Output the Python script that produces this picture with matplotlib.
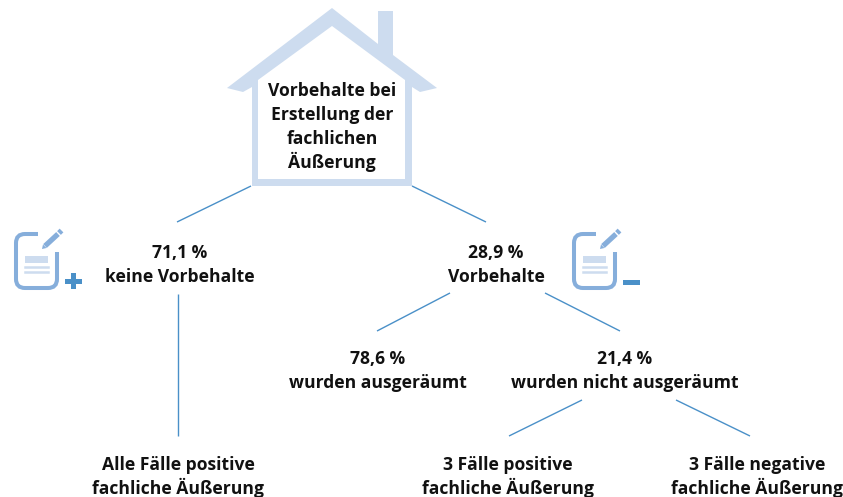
import matplotlib.pyplot as plt
from matplotlib.patches import Polygon, PathPatch
from matplotlib.path import Path

plt.rcParams['font.family'] = ['Open Sans', 'DejaVu Sans']

# labels: lines of text, x centre, baseline of each line (image pixels)
labels = [["Vorbehalte bei", "Erstellung der", "fachlichen", "Äußerung"],
          ["71,1 %", "keine Vorbehalte"],
          ["28,9 %", "Vorbehalte"],
          ["78,6 %", "wurden ausgeräumt"],
          ["21,4 %", "wurden nicht ausgeräumt"],
          ["Alle Fälle positive", "fachliche Äußerung"],
          ["3 Fälle positive", "fachliche Äußerung"],
          ["3 Fälle negative", "fachliche Äußerung"]]
label_x = [332, 180, 496, 378, 625, 178, 508, 757]
label_y = [96, 258, 258, 364, 364, 470, 470, 470]
line_step = 24

# connector lines x0, y0, x1, y1
links = [(251, 186, 177, 222), (412, 186, 486, 222),
         (178, 294, 178, 436),
         (450, 293, 377, 331), (545, 293, 620, 331),
         (582, 400, 509, 436), (676, 400, 750, 436)]

HOUSE = '#cddcef'
ICON = '#86aedb'
ICON_LIGHT = '#cddcef'
SIGN = '#4a90c8'
LINE = '#4a90c8'

fig = plt.figure(figsize=(8.43, 4.97), dpi=100)
ax = fig.add_axes([0, 0, 1, 1])
ax.set_xlim(0, 843)
ax.set_ylim(497, 0)
ax.axis('off')

# house
house = [(332, 8), (378, 44), (378, 11), (393, 11), (393, 55), (437, 88), (420, 92),
         (412, 87), (412, 186), (252, 186), (252, 87), (243, 92), (227, 88)]
ax.add_patch(Polygon(house, closed=True, fc=HOUSE, ec='none'))
inner = [(332, 26), (405, 80), (405, 179), (258, 179), (258, 80)]
ax.add_patch(Polygon(inner, closed=True, fc='white', ec='none'))

for x0, y0, x1, y1 in links:
    ax.plot([x0, x1], [y0, y1], color=LINE, lw=1.0, solid_capstyle='butt')


def doc_icon(dx, plus):
    # page outline, open at the top right, round corners
    verts = [(dx + 38, 234), (dx + 25, 234), (dx + 16, 234), (dx + 16, 243),
             (dx + 16, 279), (dx + 16, 288), (dx + 25, 288), (dx + 48, 288),
             (dx + 57, 288), (dx + 57, 279), (dx + 57, 252)]
    codes = [Path.MOVETO, Path.LINETO, Path.CURVE3, Path.CURVE3,
             Path.LINETO, Path.CURVE3, Path.CURVE3, Path.LINETO,
             Path.CURVE3, Path.CURVE3, Path.LINETO]
    ax.add_patch(PathPatch(Path(verts, codes), fc='none', ec=ICON, lw=2.9, capstyle='butt'))
    # text lines
    ax.add_patch(Polygon([(dx + 25, 256), (dx + 48, 256), (dx + 48, 263), (dx + 25, 263)], fc=ICON_LIGHT, ec='none'))
    ax.plot([dx + 25, dx + 48], [267, 267], color=ICON_LIGHT, lw=1.8)
    ax.plot([dx + 25, dx + 48], [272, 272], color=ICON_LIGHT, lw=1.8)
    # pen
    ax.plot([dx + 45, dx + 58], [246, 234], color=ICON, lw=3.8, solid_capstyle='butt')
    ax.plot([dx + 59, dx + 61.5], [233, 230.5], color=ICON, lw=3.8, solid_capstyle='butt')
    ax.add_patch(Polygon([(dx + 42, 249), (dx + 43, 244.5), (dx + 46.5, 248)], fc=ICON, ec='none'))
    # sign
    if plus:
        ax.add_patch(Polygon([(dx + 65, 278.5), (dx + 82, 278.5), (dx + 82, 283.5), (dx + 65, 283.5)], fc=SIGN, ec='none'))
        ax.add_patch(Polygon([(dx + 71, 273), (dx + 76, 273), (dx + 76, 289), (dx + 71, 289)], fc=SIGN, ec='none'))
    else:
        ax.add_patch(Polygon([(dx + 65, 280), (dx + 82, 280), (dx + 82, 285), (dx + 65, 285)], fc=SIGN, ec='none'))


doc_icon(0, True)
doc_icon(558, False)

for lines, x, y in zip(labels, label_x, label_y):
    for i, txt in enumerate(lines):
        ax.text(x, y + i * line_step, txt, ha='center', va='baseline', fontsize=12.6,
                fontweight='bold', color='#111111')

fig.savefig('out.png', dpi=100)
